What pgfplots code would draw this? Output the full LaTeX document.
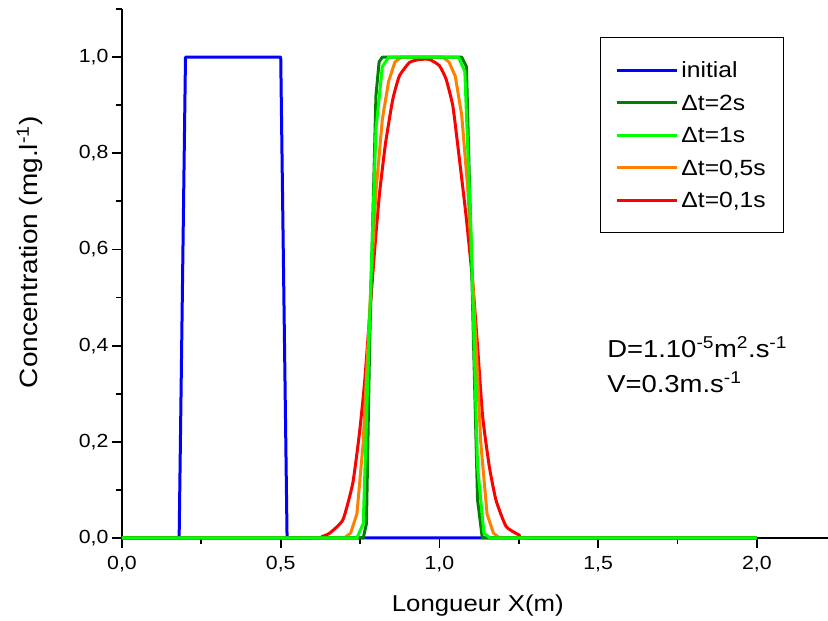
\documentclass[border=0pt]{standalone}
\usepackage{fontspec}
\setmainfont{Liberation Sans}[FakeStretch=1.12]
\usepackage{pgfplots}
\pgfplotsset{compat=1.18}
\definecolor{cblue}{RGB}{0,0,255}
\definecolor{cdgreen}{RGB}{0,128,0}
\definecolor{clgreen}{RGB}{0,255,0}
\definecolor{corange}{RGB}{255,128,0}
\definecolor{cred}{RGB}{255,0,0}
\begin{document}
\begin{tikzpicture}
\useasboundingbox (-122pt,-83pt) rectangle (706pt,538pt);
\begin{axis}[
  at={(0pt,0pt)}, anchor=south west,
  scale only axis, width=706pt, height=529pt,
  xmin=0, xmax=2.224, ymin=0, ymax=1.1,
  axis lines*=left,
  axis line style={line width=1.8pt, black},
  clip=false,
  xtick={0,0.5,1,1.5,2},
  ytick={0,0.2,0.4,0.6,0.8,1.0},
  minor xtick={0.25,0.75,1.25,1.75},
  minor ytick={0.1,0.3,0.5,0.7,0.9,1.1},
  tick align=outside,
  major tick length=10pt, minor tick length=6pt,
  every tick/.style={black, line width=1.8pt},
  /pgf/number format/assume math mode=true,
  xticklabel style={yshift=-5pt, /pgf/number format/.cd, fixed, fixed zerofill, precision=1, use comma},
  yticklabel style={/pgf/number format/.cd, fixed, fixed zerofill, precision=1, use comma},
  tick label style={font=\fontsize{19}{22}\selectfont},
  xlabel={Longueur X(m)},
  ylabel={Concentration (mg.l\textsuperscript{-1})},
  xlabel style={at={(axis description cs:0.504,-0.138)}, anchor=base, font=\fontsize{23}{27}\selectfont},
  ylabel style={at={(axis description cs:-0.119,0.54)}, anchor=base, font=\fontsize{25}{29}\selectfont},
  legend style={at={(0.677,0.947)}, anchor=north west, draw=black, line width=1pt,
    inner xsep=15pt, inner ysep=19pt, font=\fontsize{22}{26}\selectfont, row sep=5.5pt,
    nodes={inner sep=3pt, text height=18pt, text depth=3pt, anchor=west}},
  legend cell align=left,
  legend image code/.code={\draw[#1, line width=3pt] (0pt,0pt) -- (60pt,0pt);},
  every axis plot/.append style={line width=3pt, line join=round},
]
\addlegendimage{cblue}
\addlegendimage{cdgreen}
\addlegendimage{clgreen}
\addlegendimage{corange}
\addlegendimage{cred}
\legend{initial, {Δt=2s}, {Δt=1s}, {Δt=0,5s}, {Δt=0,1s}}

% initial
\addplot[cblue, forget plot] coordinates {
(0,0) (0.18,0) (0.20,1) (0.50,1) (0.52,0) (2.0,0)};

% dt = 0.1 s
\addplot[cred, forget plot, smooth, tension=0.3] coordinates {
(0,0) (0.60,0) (0.63,0.003) (0.654,0.010) (0.696,0.038) (0.727,0.114) (0.748,0.218)
(0.764,0.322) (0.780,0.461) (0.796,0.600) (0.811,0.715) (0.830,0.820)
(0.853,0.912) (0.874,0.961) (0.906,0.989) (0.937,0.995) (0.969,0.995)
(1.000,0.982) (1.021,0.954) (1.042,0.899) (1.058,0.815) (1.084,0.669)
(1.105,0.530) (1.121,0.390) (1.136,0.253) (1.157,0.149) (1.178,0.079)
(1.210,0.024) (1.252,0.006) (1.29,0) (2.0,0)};

% dt = 0.5 s
\addplot[corange, forget plot] coordinates {
(0,0) (0.70,0) (0.72,0.01) (0.74,0.05) (0.76,0.20) (0.78,0.47) (0.80,0.72)
(0.82,0.87) (0.84,0.95) (0.86,0.99) (0.88,1.0) (1.01,1.0) (1.03,0.99)
(1.05,0.96) (1.07,0.88) (1.09,0.72) (1.11,0.47) (1.13,0.20) (1.15,0.05)
(1.17,0.01) (1.19,0) (2.0,0)};

% dt = 2 s
\addplot[cdgreen, forget plot] coordinates {
(0,0) (0.76,0) (0.77,0.03) (0.78,0.40) (0.80,0.92) (0.81,0.99) (0.82,1.0)
(1.07,1.0) (1.085,0.98) (1.10,0.60) (1.12,0.08) (1.135,0) (2.0,0)};

% dt = 1 s
\addplot[clgreen, forget plot] coordinates {
(0,0) (0.74,0) (0.76,0.03) (0.78,0.45) (0.80,0.85) (0.82,0.98) (0.84,1.0)
(1.06,1.0) (1.08,0.97) (1.10,0.62) (1.12,0.15) (1.14,0.01) (1.16,0) (2.0,0)};

\node[anchor=base west, font=\fontsize{24.5}{28}\selectfont, inner sep=0pt]
  at (axis cs:1.528,0.375) {D=1.10\textsuperscript{-5}m\textsuperscript{2}.s\textsuperscript{-1}};
\node[anchor=base west, font=\fontsize{24.5}{28}\selectfont, inner sep=0pt]
  at (axis cs:1.528,0.302) {V=0.3m.s\textsuperscript{-1}};
\end{axis}
\end{tikzpicture}
\end{document}
